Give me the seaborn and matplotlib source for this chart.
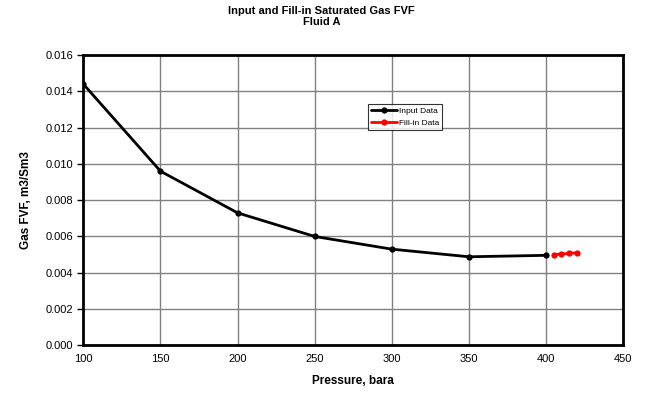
import matplotlib
matplotlib.use("Agg")
import matplotlib.pyplot as plt
import seaborn as sns
import pandas as pd

# Saturated gas formation volume factor, Fluid A
input_pressure = [100, 150, 200, 250, 300, 350, 400]
input_fvf = [0.0144, 0.0096, 0.0073, 0.0060, 0.0053, 0.00488, 0.00496]
fill_pressure = [405, 410, 415, 420]
fill_fvf = [0.00500, 0.00503, 0.00507, 0.00510]

x_ticks = [100, 150, 200, 250, 300, 350, 400, 450]
y_ticks = [0.000, 0.002, 0.004, 0.006, 0.008, 0.010, 0.012, 0.014, 0.016]

sns.set_theme(style="white")
plt.rcParams["font.family"] = ["Liberation Sans", "DejaVu Sans"]
plt.rcParams["text.color"] = "black"
plt.rcParams["axes.labelcolor"] = "black"
plt.rcParams["xtick.color"] = "black"
plt.rcParams["ytick.color"] = "black"

df_in = pd.DataFrame({"Pressure": input_pressure, "FVF": input_fvf})
df_fill = pd.DataFrame({"Pressure": fill_pressure, "FVF": fill_fvf})

fig = plt.figure(figsize=(6.56, 3.96), dpi=100)
ax = fig.add_axes([0.127, 0.128, 0.823, 0.733])

sns.lineplot(data=df_in, x="Pressure", y="FVF", ax=ax, color="black",
             linewidth=2, marker="o", markersize=4.5, markeredgewidth=0,
             label="Input Data", zorder=3)
sns.lineplot(data=df_fill, x="Pressure", y="FVF", ax=ax, color="#ff0000",
             linewidth=2, marker="o", markersize=4.5, markeredgewidth=0,
             label="Fill-in Data", zorder=3)

ax.set_xlim(100, 450)
ax.set_ylim(0, 0.016)
ax.set_xticks(x_ticks)
ax.set_yticks(y_ticks)
ax.set_xticklabels([str(v) for v in x_ticks])
ax.set_yticklabels([f"{v:.3f}" for v in y_ticks])
ax.grid(True, color="#808080", linewidth=1)
ax.set_axisbelow(True)

for side in ax.spines.values():
    side.set_color("black")
    side.set_linewidth(2)

ax.tick_params(axis="y", which="both", left=True, length=4, width=1,
               color="black", labelsize=8, pad=3)
ax.tick_params(axis="x", which="both", bottom=False, length=0,
               labelsize=8, pad=6)

ax.set_xlabel("Pressure, bara", fontsize=8.5, fontweight="bold", labelpad=8)
ax.set_ylabel("Gas FVF, m3/Sm3", fontsize=8.5, fontweight="bold", labelpad=10)

fig.suptitle("Input and Fill-in Saturated Gas FVF\nFluid A", x=0.49, y=0.985,
             fontsize=8, fontweight="bold", linespacing=1.15)

leg = ax.legend(loc="upper left", bbox_to_anchor=(0.527, 0.83), fontsize=6,
                frameon=True, fancybox=False, edgecolor="black",
                handlelength=3.2, handletextpad=0.2, borderpad=0.35,
                labelspacing=0.45, borderaxespad=0)
leg.get_frame().set_linewidth(0.8)

fig.savefig("out.png", dpi=100, facecolor="white")
